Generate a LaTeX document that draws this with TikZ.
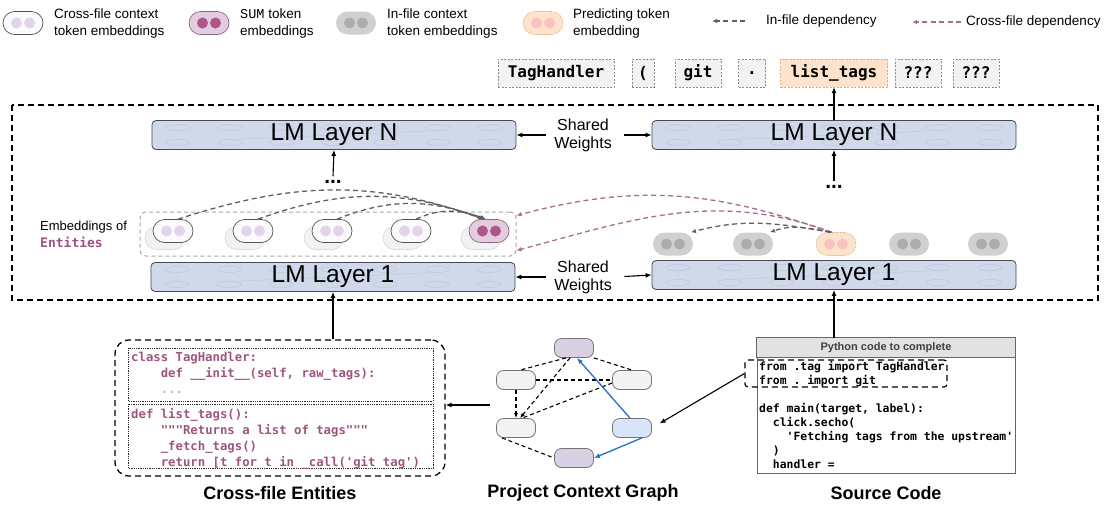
\documentclass[tikz,border=0pt]{standalone}
\usepackage{fontspec}
\setmainfont{Liberation Sans}
\setmonofont{DejaVu Sans Mono}
\newfontfamily\summono{Liberation Mono}
\usetikzlibrary{positioning,arrows.meta,shadows}

\definecolor{mauve}{RGB}{158,84,126}
\definecolor{lmfill}{RGB}{207,217,233}
\definecolor{lmline}{RGB}{70,72,82}
\definecolor{lmdeco}{RGB}{188,199,220}
\definecolor{tokfill}{RGB}{242,242,242}
\definecolor{predfill}{RGB}{253,227,203}
\definecolor{predline}{RGB}{214,176,124}
\definecolor{pillfill}{RGB}{251,250,252}
\definecolor{pillline}{RGB}{85,85,85}
\definecolor{xdot}{RGB}{227,213,233}
\definecolor{sumfill}{RGB}{228,203,224}
\definecolor{sumline}{RGB}{130,110,128}
\definecolor{sumdot}{RGB}{172,86,138}
\definecolor{infill}{RGB}{208,208,208}
\definecolor{indot}{RGB}{172,172,172}
\definecolor{preddot}{RGB}{250,193,193}
\definecolor{depgray}{RGB}{95,95,95}
\definecolor{deppink}{RGB}{168,108,148}
\definecolor{graphlav}{RGB}{218,208,228}
\definecolor{graphgray}{RGB}{243,243,243}
\definecolor{graphblue}{RGB}{216,228,248}
\definecolor{bluearr}{RGB}{38,112,200}
\definecolor{headgray}{RGB}{226,226,226}

% two dots inside a token pill
\newcommand{\pilldots}[2]{\fill[#2] ([xshift=-6.5pt]#1.center) circle[radius=5.5pt] ([xshift=6.5pt]#1.center) circle[radius=5.5pt];}

\tikzset{
  pill/.style = {rounded corners=11.5pt, minimum width=40pt, minimum height=23pt, inner sep=0pt},
  crosspill/.style = {pill, draw=pillline, fill=pillfill, line width=0.7pt},
  shadowed/.style = {general shadow={fill=black!5, draw=black!14, shadow xshift=-8pt, shadow yshift=-7pt}},
  sumpill/.style = {pill, draw=sumline, fill=sumfill, line width=0.7pt},
  inpill/.style = {pill, fill=infill},
  predpill/.style = {pill, draw=predline, dash pattern=on 1.5pt off 1.2pt, fill=predfill, line width=0.6pt},
  tokbox/.style = {draw=black!45, dash pattern=on 2pt off 1.5pt, fill=tokfill, minimum height=28pt, inner sep=0pt,
    font=\ttfamily\bfseries\fontsize{16}{18}\selectfont},
  lmbox/.style = {draw=lmline, fill=lmfill, rounded corners=4pt, minimum width=364pt, minimum height=29pt, line width=0.8pt,
    font=\fontsize{24.5}{26}\selectfont,
    path picture={
      \foreach \k in {0,...,6} {
        \draw[lmdeco, line width=0.5pt] ([xshift=\k*52pt+26pt, yshift=-7pt]path picture bounding box.north west) ellipse (12pt and 3pt)
          ([xshift=\k*52pt+26pt, yshift=7pt]path picture bounding box.south west) ellipse (12pt and 3pt);
      }
      \draw[lmdeco, line width=0.4pt] ([xshift=26pt, yshift=-10pt]path picture bounding box.north west) -- ([xshift=26pt, yshift=10pt]path picture bounding box.south west)
        ([xshift=338pt, yshift=-10pt]path picture bounding box.north west) -- ([xshift=338pt, yshift=10pt]path picture bounding box.south west)
        ([xshift=78pt, yshift=10pt]path picture bounding box.south west) -- ([xshift=286pt, yshift=-10pt]path picture bounding box.north west);
    }},
  indep/.style = {depgray, line width=1.3pt, dash pattern=on 5pt off 3.5pt, -{Latex[length=5pt,width=4.5pt]}},
  crossdep/.style = {deppink, line width=1.3pt, dash pattern=on 5pt off 3.5pt, -{Latex[length=5pt,width=4.5pt]}},
  legtext/.style = {align=left, anchor=west, inner sep=0pt, font=\fontsize{13.5}{17}\selectfont},
  gnode/.style = {draw=black!55, line width=0.8pt, rounded corners=7pt, minimum width=39pt, minimum height=19pt, inner sep=0pt},
  gedge/.style = {black, line width=1.1pt, dash pattern=on 4pt off 3pt},
  bluearrow/.style = {bluearr, line width=1.3pt, -{Latex[length=6pt,width=5pt]}},
  codetext/.style = {align=left, anchor=north west, inner sep=0pt},
  caption/.style = {font=\bfseries\fontsize{18}{20}\selectfont},
  arr/.style = {line width=1.1pt, -{Latex[length=6pt,width=5pt]}},
  etc/.style = {inner sep=1pt, font=\bfseries\fontsize{21}{21}\selectfont},
}

\begin{document}
\begin{tikzpicture}[x=1pt, y=-1pt]
  \useasboundingbox (0,0) rectangle (1110,507);

  % legend
  \node[crosspill] (legx) at (23,23) {};
  \pilldots{legx}{xdot}
  \node[legtext] (legxt) at (54,24) {Cross-file context\\token embeddings};
  \node[sumpill] (legs) at (209,23) {};
  \pilldots{legs}{sumdot}
  \node[legtext] (legst) at (240,24) {{\summono SUM} token\\embeddings};
  \node[inpill] (legi) at (356,23) {};
  \pilldots{legi}{indot}
  \node[legtext] (legit) at (387,24) {In-file context\\token embeddings};
  \node[predpill] (legp) at (543,23) {};
  \pilldots{legp}{preddot}
  \node[legtext] (legpt) at (573,24) {Predicting token\\embedding};
  \coordinate (legia) at (745,21);
  \node[legtext] (legiat) at (766,21) {In-file dependency};
  \draw[indep, line width=1.2pt] (legia) -- ++(-33,0);
  \coordinate (legca) at (961,22);
  \node[legtext] (legcat) at (966,22) {Cross-file dependency};
  \draw[crossdep, line width=1.2pt] (legca) -- ++(-49,0);

  % output tokens
  \node[tokbox, minimum width=116pt] (t1) at (556,73) {TagHandler};
  \node[tokbox, minimum width=22pt] (t2) at (643,73) {(};
  \node[tokbox, minimum width=46pt] (t3) at (698,73) {git};
  \node[tokbox, minimum width=27pt] (t4) at (752,73) {.};
  \node[tokbox, minimum width=107pt, fill=predfill, draw=predline] (t5) at (834,73) {list\_tags};
  \node[tokbox, minimum width=46pt] (t6) at (918,73) {???};
  \node[tokbox, minimum width=46pt] (t7) at (976,73) {???};

  % model frame
  \draw[line width=1.3pt, dash pattern=on 6pt off 4pt] (12,105) rectangle (1098,300);

  \node[lmbox] (lmNl) at (334,135) {LM Layer N};
  \node[lmbox] (lmNr) at (834,135) {LM Layer N};
  \node[lmbox] (lm1l) at (333,277) {LM Layer 1};
  \node[lmbox] (lm1r) at (834,275) {LM Layer 1};

  \node[align=center, font=\fontsize{16}{18}\selectfont] (swN) at (583,135) {Shared\\Weights};
  \node[align=center, font=\fontsize{16}{18}\selectfont] (sw1) at (583,277) {Shared\\Weights};
  \draw[arr, shorten <=5pt] (swN.west) -- (lmNl.east);
  \draw[arr, shorten <=9pt] (swN.east) -- (lmNr.west);
  \draw[arr, shorten <=5pt] (sw1.west) -- (lm1l.east);
  \draw[arr, shorten <=9pt] (sw1.east) -- (lm1r.west);

  \node[etc] (dotsl) at (333,182) {...};
  \node[etc] (dotsr) at (834,187) {...};
  \draw[arr] ([yshift=3pt]dotsl.north) -- (lmNl.south);
  \draw[arr] ([yshift=3pt]dotsr.north) -- (lmNr.south);
  \draw[arr] (lmNr.north) -- (t5.south);

  % entity embeddings
  \node[draw=black!35, line width=1pt, dash pattern=on 4pt off 3pt, rounded corners=6pt,
    minimum width=376pt, minimum height=44pt] (entfr) at (328,234) {};
  \node[legtext, font=\fontsize{13}{17}\selectfont] (entlab) at (40,234)
    {Embeddings of\\{\ttfamily\bfseries\color{mauve}Entities}};
  \node[crosspill, shadowed] (e1) at (173,231) {};
  \node[crosspill, shadowed] (e2) at (253,231) {};
  \node[crosspill, shadowed] (e3) at (332,231) {};
  \node[crosspill, shadowed] (e4) at (411,231) {};
  \node[sumpill, shadowed] (sum) at (489,231) {};
  \foreach \n in {e1,e2,e3,e4} {\pilldots{\n}{xdot}}
  \pilldots{sum}{sumdot}

  % in-file context embeddings
  \node[inpill] (g1) at (673,244) {};
  \node[inpill] (g2) at (753,244) {};
  \node[predpill] (pred) at (836,244) {};
  \node[inpill] (g3) at (909,244) {};
  \node[inpill] (g4) at (988,244) {};
  \foreach \n in {g1,g2,g3,g4} {\pilldots{\n}{indot}}
  \pilldots{pred}{preddot}

  % dependencies
  \draw[indep] ([xshift=5pt]e1.north) to[out=18, in=160] ([xshift=-6pt]sum.north);
  \draw[indep] ([xshift=5pt]e2.north) to[out=20, in=160] ([xshift=-5pt]sum.north);
  \draw[indep] ([xshift=5pt]e3.north) to[out=22, in=160] ([xshift=-4pt]sum.north);
  \draw[indep] ([xshift=5pt]e4.north) to[out=25, in=160] ([xshift=-3pt]sum.north);
  \draw[crossdep] ([xshift=-6pt]pred.north) to[out=160, in=15] ([yshift=-4pt]entfr.north east);
  \draw[crossdep] ([xshift=-4pt]pred.north) to[out=160, in=15] ([yshift=6pt]entfr.south east);
  \draw[indep] ([xshift=-6pt]pred.north) to[out=170, in=15] ([xshift=18pt]g1.north);
  \draw[indep] ([xshift=-5pt]pred.north) to[out=170, in=20] ([xshift=17pt]g2.north);

  % cross-file entities
  \node[draw, line width=1.3pt, dash pattern=on 6pt off 4pt, rounded corners=14pt,
    minimum width=330pt, minimum height=136pt] (cfe) at (280,408) {};
  \draw[black!85, densely dotted, line width=0.8pt] (128,348) rectangle (433,401);
  \draw[black!85, densely dotted, line width=0.8pt] (128,404) rectangle (433,468);
  \node[codetext, mauve, font=\ttfamily\bfseries\fontsize{12.3}{16}\selectfont] (code1) at (131,352)
    {class TagHandler:\\\phantom{0000}def \_\_init\_\_(self, raw\_tags):\\\phantom{0000}{\color{mauve!50}...}};
  \node[codetext, mauve, font=\ttfamily\bfseries\fontsize{12.3}{16}\selectfont] (code2) at (131,408)
    {def list\_tags():\\\phantom{0000}"""Returns a list of tags"""\\\phantom{0000}\_fetch\_tags()\\\phantom{0000}return [t for t in \_call('git tag')};
  \draw[arr] (lm1l.south |- cfe.north) -- (lm1l.south);
  \node[caption] (cfecap) at (280,493) {Cross-file Entities};

  % project context graph
  \node[gnode, fill=graphlav] (top) at (574,348) {};
  \node[gnode, fill=graphgray] (lu) at (516,380) {};
  \node[gnode, fill=graphgray] (ru) at (632,380) {};
  \node[gnode, fill=graphgray] (ll) at (516,428) {};
  \node[gnode, fill=graphblue] (rl) at (632,428) {};
  \node[gnode, fill=graphlav] (bt) at (574,458) {};
  \draw[gedge] ([xshift=-8pt]top.south) -- ([xshift=4pt]lu.north);
  \draw[gedge] (top.south east) -- (ru.north);
  \draw[gedge] (lu.east) -- (ru.west);
  \draw[gedge, -{Latex[length=5pt,width=4pt]}] (lu.south) -- (ll.north);
  \draw[gedge, -{Latex[length=5pt,width=4pt]}] ([xshift=-4pt]top.south) -- ([xshift=4pt]ll.north);
  \draw[gedge] ([yshift=-3pt]ru.west) -- ([xshift=6pt]ll.north);
  \draw[gedge] ([xshift=-14pt]ll.south) -- (bt.west);
  \draw[bluearrow] ([xshift=-2pt]rl.north) -- ([xshift=3pt]top.south);
  \draw[bluearrow] ([xshift=10pt]rl.south) -- (bt.east);
  \coordinate (gleft) at (490,405);
  \draw[arr] (gleft) -- (gleft -| cfe.east);
  \node[caption] (pcgcap) at (583,493) {Project Context Graph};

  % source code
  \node[draw=black!60, line width=1pt, minimum width=258pt, minimum height=135pt] (src) at (886,405.5) {};
  \draw[draw=black!60, fill=headgray, line width=1pt] (src.north west) rectangle ([yshift=-20pt]src.north east);
  \node[font=\bfseries\fontsize{11}{13}\selectfont, text=black!75] (srchead) at (886,348) {Python code to complete};
  \node[codetext, font=\ttfamily\bfseries\fontsize{11.4}{14}\selectfont] (code3) at (759,361)
    {from .tag import TagHandler\\from . import git\\[14pt]def main(target, label):\\\phantom{00}click.secho(\\\phantom{0000}'Fetching tags from the upstream'\\\phantom{00})\\\phantom{00}handler =};
  \node[draw, line width=1.2pt, dash pattern=on 6pt off 4pt, rounded corners=3pt,
    minimum width=202pt, minimum height=27pt] (imp) at (846,373.5) {};
  \draw[arr, shorten >=9pt] (imp.west) -- (rl.east);
  \draw[arr] (lm1r.south |- src.north) -- (lm1r.south);
  \node[caption] (srccap) at (886,493) {Source Code};
\end{tikzpicture}
\end{document}
